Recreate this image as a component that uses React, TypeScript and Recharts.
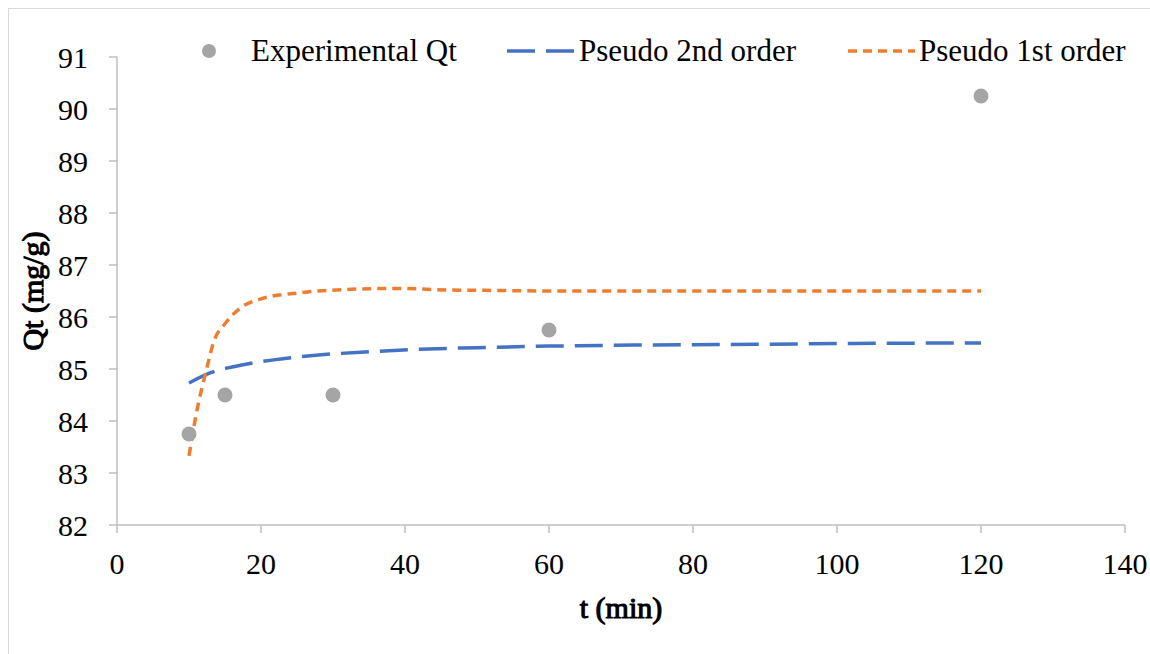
import { ComposedChart, Line, Scatter, XAxis, YAxis } from "recharts"

const expT = [10, 15, 30, 60, 120]
const expQ = [83.75, 84.5, 84.5, 85.75, 90.25]

const p2T = [10, 13, 16, 22, 28, 35, 42, 50, 60, 72, 85, 100, 120]
const p2Q = [84.73, 84.93, 85.04, 85.18, 85.27, 85.33, 85.38, 85.41, 85.44, 85.46, 85.47, 85.49, 85.5]

const p1T = [10, 11, 12.5, 13.5, 15, 17, 20, 25, 32, 39, 46, 53, 60, 80, 100, 120]
const p1Q = [83.33, 84.13, 85.03, 85.55, 85.87, 86.16, 86.35, 86.46, 86.53, 86.55, 86.52, 86.51, 86.5, 86.5, 86.5, 86.5]

const xTicks = [0, 20, 40, 60, 80, 100, 120, 140]
const yTicks = [82, 83, 84, 85, 86, 87, 88, 89, 90, 91]

const expData = expT.map((t, i) => ({ t, q: expQ[i] }))
const p2Data = p2T.map((t, i) => ({ t, q: p2Q[i] }))
const p1Data = p1T.map((t, i) => ({ t, q: p1Q[i] }))

const FONT = "'Liberation Serif', 'Times New Roman', serif"
const AXIS = "#bfbfbf"
const BLUE = "#4472c4"
const ORANGE = "#ed7d31"
const GREY = "#a5a5a5"

const tickStyle = { fontSize: 30, fill: "#000" }

// titles are regular serif with a thin stroke, so they stay serif when bold
function YTitle(props: any) {
  const { viewBox } = props
  const cx = viewBox.x + 24
  const cy = viewBox.y + viewBox.height / 2
  return (
    <text className="axis-title" x={cx} y={cy} transform={`rotate(-90 ${cx} ${cy})`} textAnchor="middle" dominantBaseline="central"
      fill="#000" stroke="#000" strokeWidth={1.1}>
      Qt (mg/g)
    </text>
  )
}

function XTitle(props: any) {
  const { viewBox } = props
  const cx = viewBox.x + viewBox.width / 2
  const cy = viewBox.y + 82
  return (
    <text className="axis-title" x={cx} y={cy} textAnchor="middle" dominantBaseline="central"
      fill="#000" stroke="#000" strokeWidth={1.1}>
      t (min)
    </text>
  )
}

function LegendRow() {
  const text = { position: "absolute" as const, top: 22, fontSize: 31, fontFamily: FONT, color: "#000", whiteSpace: "nowrap" as const, lineHeight: "40px" }
  return (
    <>
      <svg style={{ position: "absolute", left: 0, top: 0 }} width={1142} height={80}>
        <circle cx={200} cy={42} r={7} fill={GREY} />
        <line x1={498} y1={42} x2={566} y2={42} stroke={BLUE} strokeWidth={3.5} strokeDasharray="28 11" />
        <line x1={839} y1={42} x2={906} y2={42} stroke={ORANGE} strokeWidth={3.5} strokeDasharray="9 6" />
      </svg>
      <div style={{ ...text, left: 242 }}>Experimental Qt</div>
      <div style={{ ...text, left: 570 }}>Pseudo 2nd order</div>
      <div style={{ ...text, left: 910 }}>Pseudo 1st order</div>
    </>
  )
}

const css = `
body{margin:0;overflow:hidden}
.chart-box svg text{font-family:${FONT} !important}
.chart-box .axis-title{font-size:30px;font-weight:normal}
`

export default function App() {
  return (
    <div className="chart-box" style={{ position: "absolute", left: 8, top: 8, width: 1142, height: 646, overflow: "hidden", borderTop: "1px solid #d9d9d9", borderLeft: "1px solid #d9d9d9", boxSizing: "border-box", background: "#fff", fontFamily: FONT }}>
      <style>{css}</style>
      <ComposedChart width={1142} height={646} margin={{ top: 48, right: 26, bottom: 0, left: -1 }}>
        <XAxis
          dataKey="t"
          type="number"
          domain={[0, 140]}
          ticks={xTicks}
          allowDataOverflow
          height={130}
          stroke={AXIS}
          strokeWidth={1.5}
          tickSize={8}
          tickMargin={20}
          tick={tickStyle}
          label={<XTitle />}
        />
        <YAxis
          dataKey="q"
          type="number"
          domain={[82, 91]}
          ticks={yTicks}
          allowDataOverflow
          width={109}
          stroke={AXIS}
          strokeWidth={1.5}
          tickSize={8}
          tickMargin={21}
          tick={tickStyle}
          label={<YTitle />}
        />
        <Line data={p2Data} dataKey="q" type="monotone" stroke={BLUE} strokeWidth={3.5} strokeDasharray="28 11" dot={false} activeDot={false} isAnimationActive={false} />
        <Line data={p1Data} dataKey="q" type="monotone" stroke={ORANGE} strokeWidth={3.5} strokeDasharray="9 6" dot={false} activeDot={false} isAnimationActive={false} />
        <Scatter data={expData} dataKey="q" fill={GREY} shape={(p: any) => <circle cx={p.cx} cy={p.cy} r={7.5} fill={GREY} />} isAnimationActive={false} />
      </ComposedChart>
      <LegendRow />
    </div>
  )
}
